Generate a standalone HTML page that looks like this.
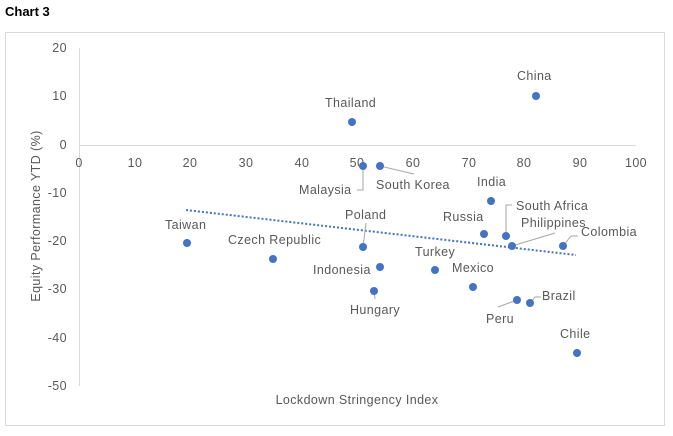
<!DOCTYPE html>
<html><head><meta charset="utf-8"><style>
body{margin:0;background:#fff;width:673px;height:431px;overflow:hidden}
text{font-family:"Liberation Sans",sans-serif;fill:#595959;font-size:12.5px;letter-spacing:0.4px}
</style></head><body>
<svg width="673" height="431" xmlns="http://www.w3.org/2000/svg">
<text x="5" y="16" style="font-weight:bold;fill:#000;font-size:13px;letter-spacing:0">Chart 3</text>
<rect x="5.5" y="32.5" width="659" height="393" fill="none" stroke="#d9d9d9"/>
<line x1="79.5" y1="48" x2="79.5" y2="386" stroke="#d9d9d9"/>
<line x1="79" y1="145.5" x2="636" y2="145.5" stroke="#d9d9d9"/>
<g text-anchor="end">
<text x="67" y="52">20</text><text x="67" y="100">10</text><text x="67" y="149">0</text>
<text x="67" y="197">-10</text><text x="67" y="245">-20</text><text x="67" y="293">-30</text>
<text x="67" y="342">-40</text><text x="67" y="390">-50</text>
</g>
<g text-anchor="middle">
<text x="79" y="167">0</text><text x="135" y="167">10</text><text x="190" y="167">20</text>
<text x="246" y="167">30</text><text x="302" y="167">40</text><text x="357" y="167">50</text>
<text x="413" y="167">60</text><text x="469" y="167">70</text><text x="524" y="167">80</text>
<text x="580" y="167">90</text><text x="636" y="167">100</text>
<text x="357" y="404">Lockdown Stringency Index</text>
<text transform="translate(40,216) rotate(-90)">Equity Performance YTD (%)</text>
</g>
<line x1="186" y1="210" x2="576" y2="255" stroke="#4472c4" stroke-width="2" stroke-dasharray="2,2"/>
<g stroke="#a6a6a6" fill="none">
<polyline points="363,166 363,190 357,190"/>
<polyline points="380,166 414,174"/>
<polyline points="363,247 366,223"/>
<polyline points="506,236 506,205 512,205"/>
<polyline points="512,246 555,233"/>
<polyline points="563,246 571,236 578,236"/>
<polyline points="374,291 375,299"/>
<polyline points="517,300 498,307"/>
<polyline points="530,303 535,297 541,297"/>
</g>
<g fill="#4472c4">
<circle cx="536" cy="96" r="4"/><circle cx="352" cy="122" r="4"/>
<circle cx="363" cy="166" r="4"/><circle cx="380" cy="166" r="4"/>
<circle cx="491" cy="201" r="4"/><circle cx="187" cy="243" r="4"/>
<circle cx="363" cy="247" r="4"/><circle cx="484" cy="234" r="4"/>
<circle cx="506" cy="236" r="4"/><circle cx="512" cy="246" r="4"/>
<circle cx="563" cy="246" r="4"/><circle cx="273" cy="259" r="4"/>
<circle cx="380" cy="267" r="4"/><circle cx="435" cy="270" r="4"/>
<circle cx="473" cy="287" r="4"/><circle cx="374" cy="291" r="4"/>
<circle cx="517" cy="300" r="4"/><circle cx="530" cy="303" r="4"/>
<circle cx="577" cy="353" r="4"/>
</g>
<text x="517" y="80">China</text>
<text x="325" y="107">Thailand</text>
<text x="299" y="194">Malaysia</text>
<text x="376" y="189">South Korea</text>
<text x="477" y="186">India</text>
<text x="165" y="229">Taiwan</text>
<text x="228" y="244">Czech Republic</text>
<text x="345" y="219">Poland</text>
<text x="443" y="221">Russia</text>
<text x="516" y="210">South Africa</text>
<text x="521" y="227">Philippines</text>
<text x="581" y="236">Colombia</text>
<text x="313" y="274">Indonesia</text>
<text x="415" y="256">Turkey</text>
<text x="452" y="272">Mexico</text>
<text x="350" y="314">Hungary</text>
<text x="486" y="323">Peru</text>
<text x="542" y="300">Brazil</text>
<text x="560" y="338">Chile</text>
</svg>
</body></html>
